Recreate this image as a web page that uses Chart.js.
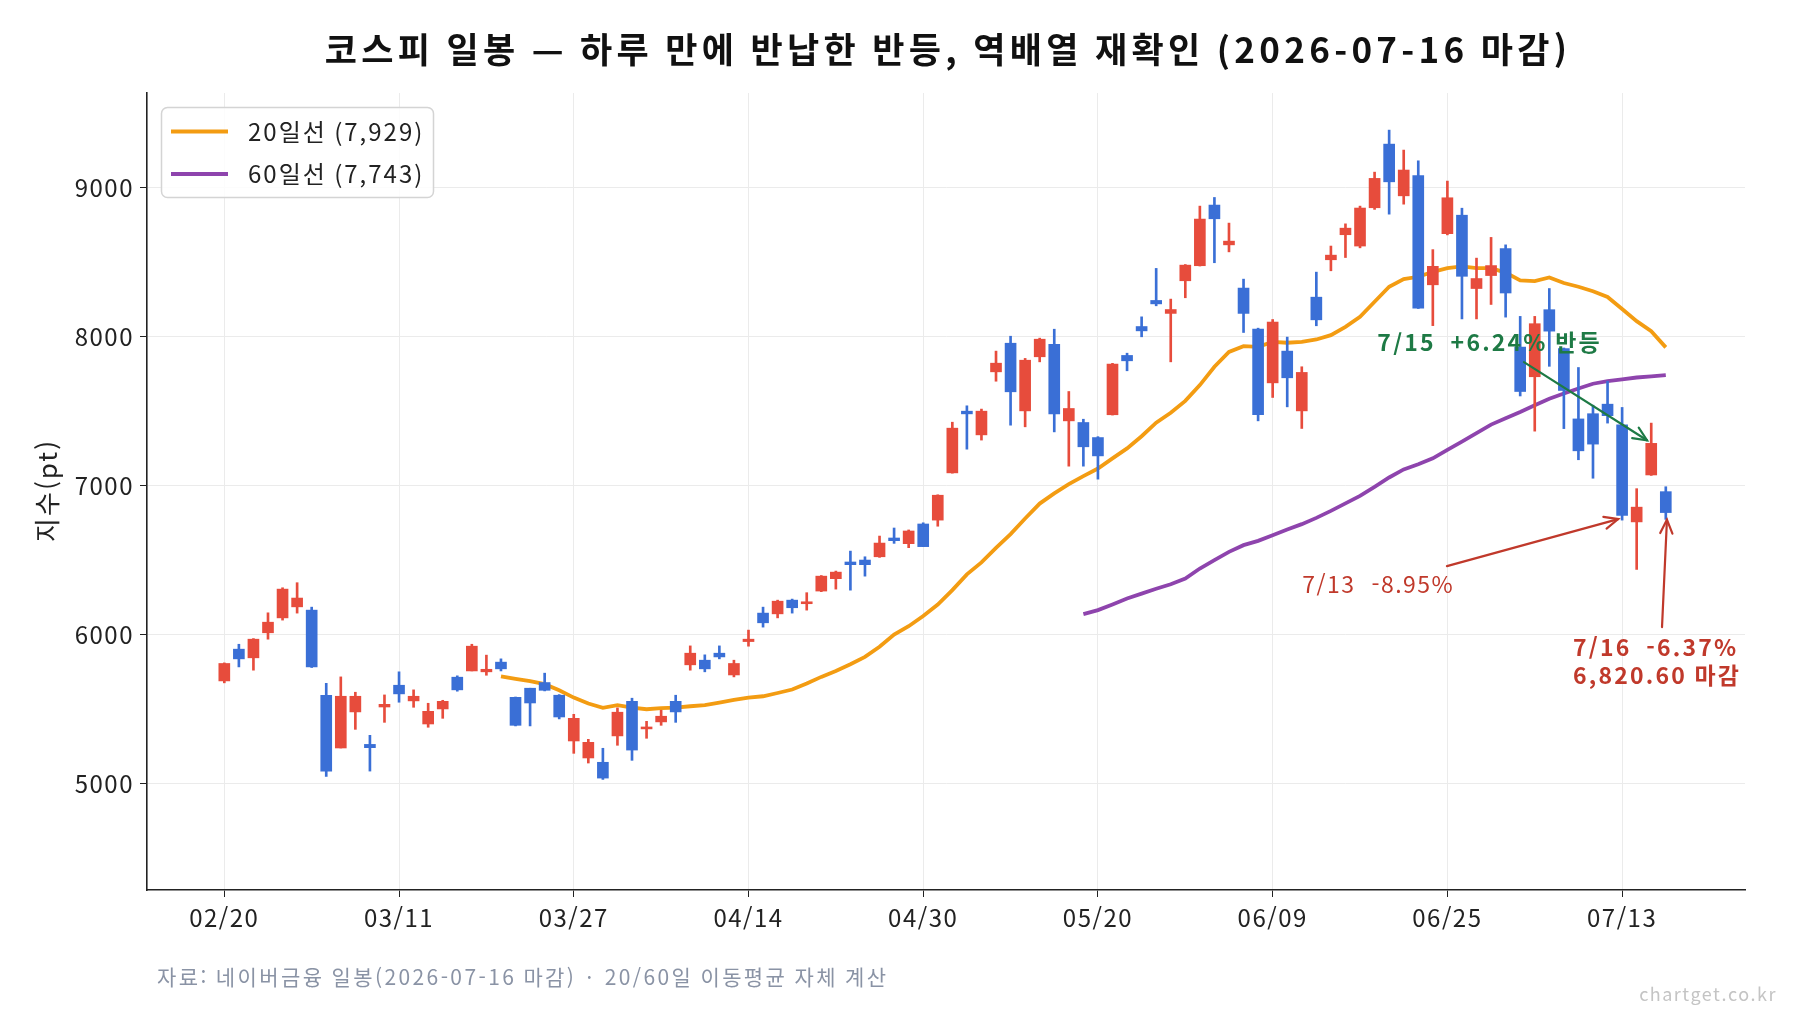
<!DOCTYPE html>
<html lang="ko">
<head>
<meta charset="utf-8">
<title>코스피 일봉</title>
<script src="https://cdn.jsdelivr.net/npm/chart.js@4.4.1/dist/chart.umd.min.js"></script>
<style>
html, body { margin:0; padding:0; background:#fff; }
#wrap { width:1800px; height:1020px; }
</style>
</head>
<body>
<div id="wrap"><canvas id="kospi" width="1800" height="1020"></canvas></div>
<script>
/* KOSPI daily candles + 20/60 MA — 2026-02-20 ~ 2026-07-16 */

const FONT = "'Noto Sans CJK KR', 'Noto Sans', sans-serif";
Chart.defaults.font.family = FONT;
Chart.defaults.color = '#222';

// ── data ──
const dates = [
    '02/20','02/23','02/24','02/25','02/26','02/27','03/03','03/04','03/05','03/06',
    '03/09','03/10','03/11','03/12','03/13','03/16','03/17','03/18','03/19','03/20',
    '03/23','03/24','03/25','03/26','03/27','03/30','03/31','04/01','04/02','04/03',
    '04/06','04/07','04/08','04/09','04/10','04/13','04/14','04/15','04/16','04/17',
    '04/20','04/21','04/22','04/23','04/24','04/27','04/28','04/29','04/30','05/04',
    '05/06','05/07','05/08','05/11','05/12','05/13','05/14','05/15','05/18','05/19',
    '05/20','05/21','05/22','05/26','05/27','05/28','05/29','06/01','06/02','06/04',
    '06/05','06/08','06/09','06/10','06/11','06/12','06/15','06/16','06/17','06/18',
    '06/19','06/22','06/23','06/24','06/25','06/26','06/29','06/30','07/01','07/02',
    '07/03','07/06','07/07','07/08','07/09','07/10','07/13','07/14','07/15','07/16'
];

const opens = [
    5691,5904,5846,6014,6114,6188,6166,5595,5241,5483,
    5265,5516,5662,5557,5402,5503,5716,5758,5752,5817,
    5581,5642,5680,5595,5288,5174,5145,5322,5554,5369,
    5416,5554,5799,5830,5877,5731,5955,6146,6141,6233,
    6209,6294,6377,6489,6502,6524,6650,6612,6744,6770,
    7087,7501,7342,7765,7957,7503,7866,7949,7436,7425,
    7324,7477,7875,8069,8244,8157,8376,8477,8884,8617,
    8327,8052,7691,7904,7503,8266,8517,8685,8609,8866,
    9293,8946,9082,8349,8692,8816,8324,8411,8592,7931,
    7732,8182,7921,7449,7484,7548,7409,6758,7073,6961
];
const highs = [
    5812,5937,5975,6148,6316,6350,6186,5675,5718,5615,
    5326,5597,5752,5631,5541,5561,5725,5937,5864,5839,
    5583,5642,5743,5599,5467,5299,5239,5510,5575,5420,
    5494,5595,5926,5866,5926,5830,6032,6186,6233,6240,
    6283,6398,6428,6562,6524,6663,6717,6704,6752,6940,
    7427,7537,7515,7904,8004,7855,7991,8051,7633,7447,
    7330,7822,7890,8134,8459,8253,8485,8877,8935,8763,
    8387,8058,8116,7998,7799,8434,8609,8758,8877,9105,
    9387,9253,9181,8585,9045,8863,8528,8667,8617,8137,
    8137,8324,7925,7794,7541,7702,7526,6981,7421,6994
];
const lows = [
    5678,5785,5763,5971,6099,6146,5781,5050,5241,5366,
    5086,5413,5548,5514,5380,5440,5622,5758,5729,5758,
    5389,5389,5624,5436,5205,5140,5030,5259,5158,5306,
    5393,5413,5763,5752,5839,5718,5924,6052,6114,6146,
    6166,6290,6307,6300,6394,6520,6614,6585,6592,6729,
    7085,7246,7307,7702,7407,7396,7832,7362,7132,7132,
    7045,7475,7772,8000,8208,7832,8262,8475,8497,8570,
    8029,7436,7593,7530,7385,8074,8443,8532,8597,8855,
    8823,8890,8190,8075,8684,8120,8120,8217,8132,7603,
    7367,7802,7384,7175,7051,7421,6770,6439,7070,6775
];
const closes = [
    5808,5839,5971,6085,6307,6247,5785,5086,5588,5588,
    5243,5534,5604,5588,5487,5554,5631,5924,5769,5772,
    5393,5543,5628,5449,5440,5279,5039,5481,5227,5382,
    5454,5483,5877,5772,5852,5808,5971,6081,6226,6182,
    6222,6394,6421,6471,6471,6616,6632,6697,6592,6937,
    7387,7483,7501,7823,7631,7843,7984,7483,7519,7262,
    7201,7817,7839,8040,8221,8183,8481,8790,8792,8642,
    8157,7477,8099,7725,7761,8114,8548,8729,8864,9063,
    9040,9119,8192,8473,8933,8406,8391,8478,8294,7633,
    8088,8038,7640,7235,7280,7471,6802,6857,7285,6820.60
];

// 20일 이동평균 (index 19부터)
const ma20Start = 19;
const ma20 = [
    5722,5705,5689,5669,5628,5579,5539,5510,5528,5512,
    5501,5508,5512,5521,5529,5545,5563,5579,5588,5610,
    5633,5673,5718,5758,5803,5852,5920,6002,6058,6126,
    6203,6300,6406,6486,6584,6676,6781,6881,6949,7011,
    7065,7116,7184,7251,7333,7424,7490,7570,7676,7799,
    7899,7937,7933,7966,7960,7966,7982,8011,8067,8134,
    8235,8336,8387,8403,8436,8461,8473,8461,8461,8431,
    8378,8374,8398,8361,8336,8306,8267,8187,8105,8038,
    7929
];
// 60일 이동평균 (index 59부터)
const ma60Start = 59;
const ma60 = [
    6139,6166,6204,6244,6277,6309,6340,6378,6445,6501,
    6557,6602,6631,6669,6707,6743,6785,6832,6882,6933,
    6993,7056,7110,7145,7185,7242,7297,7354,7411,7454,
    7496,7541,7585,7620,7653,7685,7702,7715,7727,7735,
    7743
];

const maLabels = ['20일선 (7,929)', '60일선 (7,743)'];
const xTickIdx = [0, 12, 24, 36, 48, 60, 72, 84, 96];
const yTicks = [5000, 6000, 7000, 8000, 9000];

const TITLE = '코스피 일봉 — 하루 만에 반납한 반등, 역배열 재확인 (2026-07-16 마감)';
const Y_LABEL = '지수(pt)';
const SOURCE = '자료: 네이버금융 일봉(2026-07-16 마감) · 20/60일 이동평균 자체 계산';
const MARK = 'chartget.co.kr';

// ── colours ──
const C = {
    up:'#e74c3c', down:'#3a6fd6',
    ma20:'#f39c12', ma60:'#8e44ad',
    green:'#1e7a45', red:'#c0392b',
    grid:'#ebebeb', axis:'#222'
};

// annotations: text anchor + arrow (data coords: candle index, index value)
const notes = [
    { lines:['7/15  +6.24% 반등'], bold:true, color:C.green, align:'center', tx:86.9, ty:7964,
      from:[89.26, 7830], to:[97.71, 7306] },
    { lines:['7/13  -8.95%'], bold:false, color:C.red, align:'center', tx:79.25, ty:6341,
      from:[83.97, 6461], to:[95.73, 6777] },
    { lines:['7/16  -6.37%', '6,820.60 마감'], bold:true, color:C.red, align:'left', tx:92.63, ty:5918,
      from:[98.74, 6052], to:[99.08, 6773] }
];

const candleColor = ctx => closes[ctx.dataIndex] >= opens[ctx.dataIndex] ? C.up : C.down;

function arrow(ctx, x0, y0, x1, y1, color) {
    ctx.strokeStyle = color; ctx.lineWidth = 2.2; ctx.lineCap = 'round';
    ctx.beginPath(); ctx.moveTo(x0, y0); ctx.lineTo(x1, y1); ctx.stroke();
    const a = Math.atan2(y1 - y0, x1 - x0), L = 15, sp = 0.42;
    ctx.beginPath();
    ctx.moveTo(x1 - L * Math.cos(a - sp), y1 - L * Math.sin(a - sp));
    ctx.lineTo(x1, y1);
    ctx.lineTo(x1 - L * Math.cos(a + sp), y1 - L * Math.sin(a + sp));
    ctx.stroke();
}

// wider letter spacing so Noto glyph runs match the original's text widths
const spacing = {
    id:'spacing',
    beforeDraw(chart) { chart.ctx.letterSpacing = '1.5px'; }
};

const overlay = {
    id:'overlay',
    afterDraw(chart) {
        const { ctx, chartArea:a, scales:{ x, y } } = chart;
        ctx.save();

        // title
        ctx.fillStyle = '#111'; ctx.textAlign = 'center'; ctx.textBaseline = 'middle';
        ctx.font = `bold 35px ${FONT}`; ctx.letterSpacing = '4.3px';
        ctx.fillText(TITLE, (a.left + a.right) / 2 + 2, 50);

        // y axis title
        ctx.save();
        ctx.translate(47, (a.top + a.bottom) / 2); ctx.rotate(-Math.PI / 2);
        ctx.font = `26px ${FONT}`; ctx.fillStyle = '#222'; ctx.letterSpacing = '2px';
        ctx.fillText(Y_LABEL, 1, 0);
        ctx.restore();

        // annotations
        notes.forEach(n => {
            arrow(ctx, x.getPixelForValue(n.from[0]), y.getPixelForValue(n.from[1]),
                       x.getPixelForValue(n.to[0]), y.getPixelForValue(n.to[1]), n.color);
            ctx.fillStyle = n.color; ctx.textAlign = n.align; ctx.textBaseline = 'middle';
            ctx.font = `${n.bold ? 'bold ' : ''}23px ${FONT}`;
            ctx.letterSpacing = n.bold ? '2.2px' : '1.5px';
            n.lines.forEach((t, i) => ctx.fillText(t, x.getPixelForValue(n.tx), y.getPixelForValue(n.ty) + i * 28));
        });

        // legend
        const lx = 161.5, ly = 107.5, lw = 272, lh = 90;
        ctx.beginPath(); ctx.roundRect(lx, ly, lw, lh, 6);
        ctx.fillStyle = 'rgba(255,255,255,0.85)'; ctx.fill();
        ctx.strokeStyle = '#d4d4d4'; ctx.lineWidth = 1.5; ctx.stroke();
        [C.ma20, C.ma60].forEach((col, i) => {
            const yy = 131.5 + i * 42.5;
            ctx.strokeStyle = col; ctx.lineWidth = 3.8; ctx.lineCap = 'butt';
            ctx.beginPath(); ctx.moveTo(171, yy); ctx.lineTo(228, yy); ctx.stroke();
            ctx.fillStyle = '#222'; ctx.textAlign = 'left'; ctx.textBaseline = 'middle';
            ctx.font = `24px ${FONT}`; ctx.letterSpacing = '2px';
            ctx.fillText(maLabels[i], 248, yy);
        });

        // source + watermark
        ctx.textAlign = 'left'; ctx.textBaseline = 'middle';
        ctx.font = `21px ${FONT}`; ctx.fillStyle = '#8a93a5'; ctx.letterSpacing = '2.4px';
        ctx.fillText(SOURCE, 157, 977);
        ctx.textAlign = 'right'; ctx.font = `18px ${FONT}`; ctx.fillStyle = '#c4c4c4'; ctx.letterSpacing = '1.5px';
        ctx.fillText(MARK, 1777, 994);

        ctx.restore();
        ctx.letterSpacing = '0px';
    }
};

new Chart(document.getElementById('kospi'), {
    type:'bar',
    data:{ datasets:[
        { type:'line', label:maLabels[0], data:ma20.map((v, k) => ({ x:ma20Start + k, y:v })),
          borderColor:C.ma20, borderWidth:3.8, pointRadius:0, tension:0, order:2 },
        { type:'line', label:maLabels[1], data:ma60.map((v, k) => ({ x:ma60Start + k, y:v })),
          borderColor:C.ma60, borderWidth:3.8, pointRadius:0, tension:0, order:2 },
        { type:'bar', label:'wick', data:lows.map((l, i) => ({ x:i, y:[l, highs[i]] })),
          backgroundColor:candleColor, barThickness:2, grouped:false, order:1 },
        { type:'bar', label:'body', data:opens.map((o, i) => ({ x:i, y:[o, closes[i]] })),
          backgroundColor:candleColor, barThickness:11, grouped:false, order:0 }
    ]},
    options:{
        responsive:false, animation:false, devicePixelRatio:1,
        layout:{ padding:{ top:93, right:55, bottom:70, left:0 } },
        plugins:{ legend:{ display:false }, tooltip:{ enabled:false }, title:{ display:false } },
        scales:{
            x:{
                type:'linear', min:-5.31, max:104.44, offset:false,
                grid:{ offset:false, color:C.grid, lineWidth:1, tickColor:C.axis, tickLength:7 },
                border:{ color:C.axis, width:1.6 },
                afterBuildTicks:s => { s.ticks = xTickIdx.map(v => ({ value:v })); },
                afterFit:s => { s.height = 60; },
                ticks:{ callback:v => dates[v] ?? '', font:{ size:24 }, color:'#222', padding:6,
                        maxRotation:0, autoSkip:false }
            },
            y:{
                type:'linear', min:4288, max:9636,
                grid:{ color:C.grid, lineWidth:1, tickColor:C.axis, tickLength:7 },
                border:{ color:C.axis, width:1.6 },
                afterBuildTicks:s => { s.ticks = yTicks.map(v => ({ value:v })); },
                afterFit:s => { s.width = 147; },
                ticks:{ callback:v => String(v), font:{ size:24 }, color:'#222', padding:6 }
            }
        }
    },
    plugins:[spacing, overlay]
});
</script>
</body>
</html>
